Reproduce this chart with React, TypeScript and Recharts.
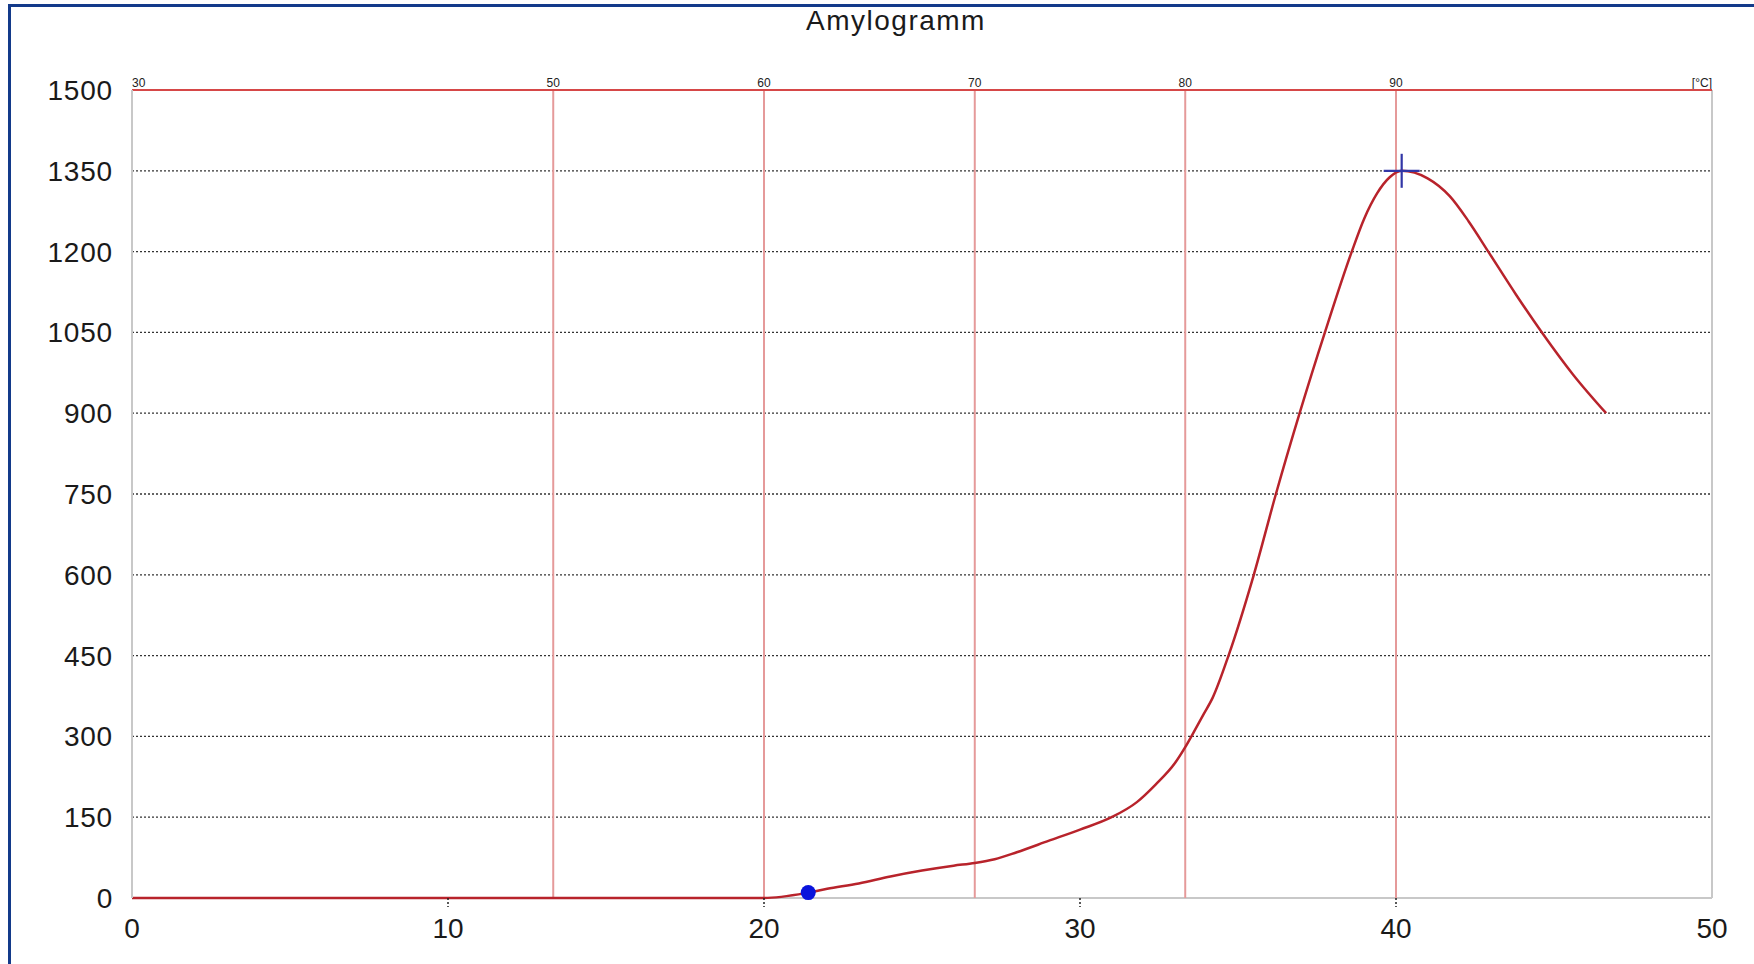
import React from 'react';
import { LineChart, Line, XAxis, YAxis, CartesianGrid, ReferenceLine, ReferenceDot } from 'recharts';

const timeMin = [0, 5, 10, 15, 20, 21.4, 22, 23, 24, 25, 26, 26.67, 27.3, 28, 29, 30, 31, 31.8, 32.4, 33, 33.33, 33.6, 33.9, 34.2, 34.7, 35.5, 36.2, 36.95, 37.75, 38.6, 39.0, 39.4, 39.8, 40.18, 41, 41.7, 42.3, 42.92, 43.8, 44.64, 45.6, 46.65];
const viscosity = [0, 0, 0, 0, 0, 10, 17, 27, 40, 51, 60, 65, 72, 85, 106, 127, 150, 178, 211, 250, 280, 308, 340, 372, 450, 600, 750, 900, 1050, 1200, 1262, 1308, 1338, 1350, 1336, 1303, 1256, 1200, 1120, 1048, 972, 900];

const xTicks = [0, 10, 20, 30, 40, 50];
const yTicks = [0, 150, 300, 450, 600, 750, 900, 1050, 1200, 1350, 1500];

// Temperaturmarken oben (°C) und ihre Zeitpunkte
const tempLabels = ['50', '60', '70', '80', '90'];
const tempTimes = [13.33, 20, 26.67, 33.33, 40];

const startMark = { t: 21.4, v: 10 };
const peakMark = { t: 40.18, v: 1350 };

const data = timeMin.map((t, i) => ({ t, v: viscosity[i] }));

const FONT = '"Liberation Sans", Arial, sans-serif';

const XTick = (props: any) => {
  const { x, y, payload } = props;
  const inner = payload.value > 0 && payload.value < 50;
  return (
    <g>
      {inner && <line x1={x} x2={x} y1={y} y2={y + 9} stroke="#222" strokeWidth={1.5} strokeDasharray="2 2" />}
      <text x={x} y={y + 40} textAnchor="middle" fontSize={28} fontFamily={FONT} fill="#1a1a1a">
        {payload.value}
      </text>
    </g>
  );
};

const YTick = (props: any) => {
  const { x, y, payload } = props;
  return (
    <text x={x - 19} y={y} dy="0.36em" textAnchor="end" fontSize={28} fontFamily={FONT} fill="#1a1a1a" letterSpacing={0.8}>
      {payload.value}
    </text>
  );
};

const tempLabel = (text: string, anchor: 'start' | 'middle' | 'end') => (props: any) => {
  const vb = props.viewBox || {};
  return (
    <text x={vb.x} y={vb.y - 3} textAnchor={anchor} fontSize={12} fontFamily={FONT} fill="#222">
      {text}
    </text>
  );
};

const PeakCross = (props: any) => {
  const { cx, cy } = props;
  return (
    <g stroke="#3236a6" strokeWidth={2.2}>
      <line x1={cx - 18} x2={cx + 18} y1={cy} y2={cy} />
      <line x1={cx} x2={cx} y1={cy - 17} y2={cy + 17} />
    </g>
  );
};

export default function App() {
  return (
    <div style={{ position: 'relative', width: 1754, height: 964, background: '#fff', overflow: 'hidden' }}>
      <style>{'body{margin:0;background:#fff}'}</style>
      <div
        style={{
          position: 'absolute',
          left: 8,
          top: 4,
          width: 1800,
          height: 1000,
          borderLeft: '3px solid #133a8a',
          borderTop: '3px solid #133a8a',
        }}
      />
      <div
        style={{
          position: 'absolute',
          left: 0,
          top: 6,
          width: 1792,
          textAlign: 'center',
          fontFamily: FONT,
          fontSize: 28,
          lineHeight: '29px',
          letterSpacing: 1.5,
          color: '#1a1a1a',
        }}
      >
        Amylogramm
      </div>
      <div style={{ position: 'absolute', left: 0, top: 0 }}>
        <LineChart width={1754} height={964} data={data} margin={{ top: 90, right: 42, left: 0, bottom: 0 }}>
          <CartesianGrid vertical={false} stroke="#333" strokeDasharray="2 2" strokeWidth={1.3} />
          {/* solid grey baseline kept in the grid layer so the curve stays on top */}
          <CartesianGrid vertical={false} horizontalPoints={[898]} stroke="#c8c8c8" strokeWidth={2} />
          <XAxis
            dataKey="t"
            type="number"
            domain={[0, 50]}
            ticks={xTicks}
            height={66}
            tickLine={false}
            tickSize={0}
            tickMargin={0}
            axisLine={false}
            tick={<XTick />}
            interval={0}
          />
          <YAxis
            type="number"
            domain={[0, 1500]}
            ticks={yTicks}
            width={132}
            tickLine={false}
            tickSize={0}
            tickMargin={0}
            axisLine={{ stroke: '#c8c8c8', strokeWidth: 2 }}
            tick={<YTick />}
            interval={0}
          />
          <ReferenceLine x={50} stroke="#c8c8c8" strokeWidth={2} label={tempLabel('[°C]', 'end')} />
          <ReferenceLine x={0} stroke="#c8c8c8" strokeWidth={2} label={tempLabel('30', 'start')} />
          {tempTimes.map((t, i) => (
            <ReferenceLine key={t} x={t} stroke="#e59a9a" strokeWidth={2} label={tempLabel(tempLabels[i], 'middle')} />
          ))}
          <ReferenceLine y={1500} stroke="#d64848" strokeWidth={2} />
          <Line
            type="monotone"
            dataKey="v"
            stroke="#b8232b"
            strokeWidth={2.5}
            dot={false}
            activeDot={false}
            isAnimationActive={false}
          />
          <ReferenceDot x={startMark.t} y={startMark.v} r={7.5} fill="#0a14dc" stroke="none" />
          <ReferenceDot x={peakMark.t} y={peakMark.v} r={10} shape={<PeakCross />} />
        </LineChart>
      </div>
    </div>
  );
}
